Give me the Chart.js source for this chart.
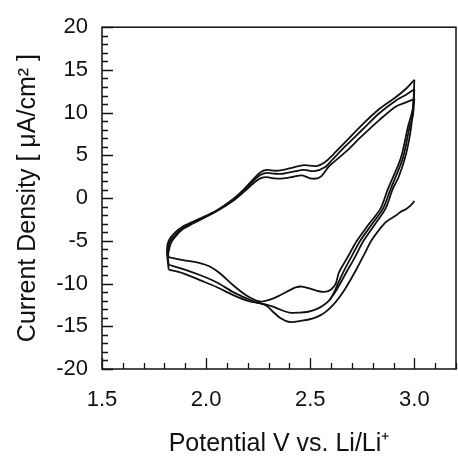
<!DOCTYPE html>
<html>
<head>
<meta charset="utf-8">
<script src="https://cdn.jsdelivr.net/npm/chart.js@4.4.0/dist/chart.umd.min.js"></script>
<style>
  html, body { margin: 0; padding: 0; background: #fff; overflow: hidden; }
  #wrap { width: 458px; height: 458px; }
  canvas { display: block; }
</style>
</head>
<body>
<div id="wrap"><canvas id="cv" width="458" height="458"></canvas></div>
<script>
// sweeps: potential (V) and current density (uA/cm2)
// cycle 1, cathodic (starts at 3.0 V near 0, outermost loop at the bottom)
const c1V = [3.0, 2.985, 2.961, 2.935, 2.913, 2.865, 2.825, 2.793, 2.761, 2.729, 2.695, 2.668, 2.64, 2.61, 2.58, 2.55, 2.51, 2.46, 2.40, 2.36, 2.321, 2.29, 2.257, 2.209, 2.13, 2.05, 1.97, 1.89, 1.82];
const c1I = [-0.34, -0.8, -1.27, -1.6, -2.02, -2.77, -3.89, -5.0, -6.5, -8.0, -9.5, -10.6, -11.6, -12.5, -13.2, -13.7, -14.1, -14.35, -14.5, -14.1, -13.3, -12.6, -12.3, -12.1, -11.35, -10.4, -9.6, -8.8, -8.36];
// cycle 1, anodic
const a1V = [1.82, 1.812, 1.82, 1.848, 1.89, 1.97, 2.05, 2.13, 2.18, 2.23, 2.26, 2.29, 2.33, 2.37, 2.42, 2.47, 2.53, 2.57, 2.61, 2.67, 2.75, 2.83, 2.91, 2.96, 3.0];
const a1I = [-8.36, -6.1, -5.0, -4.1, -3.3, -2.4, -1.45, -0.1, 1.0, 2.3, 3.0, 3.3, 3.2, 3.3, 3.6, 3.85, 3.75, 4.2, 5.1, 6.6, 8.6, 10.4, 11.8, 12.8, 13.85];
// cycle 2, cathodic
const c2V = [3.0, 2.996, 2.985, 2.972, 2.955, 2.925, 2.895, 2.862, 2.81, 2.756, 2.715, 2.673, 2.644, 2.62, 2.59, 2.56, 2.53, 2.49, 2.45, 2.40, 2.35, 2.321, 2.28, 2.24, 2.209, 2.13, 2.05, 1.97, 1.89, 1.82];
const c2I = [13.85, 11.5, 8.4, 6.5, 4.7, 2.5, 1.0, -1.2, -3.1, -5.0, -6.9, -8.7, -10.0, -11.0, -12.0, -12.6, -13.0, -13.3, -13.4, -13.4, -13.0, -12.7, -12.4, -12.2, -11.9, -11.0, -9.85, -9.0, -8.3, -7.8];
// cycle 2, anodic
const a2V = [1.82, 1.815, 1.826, 1.856, 1.89, 1.97, 2.05, 2.13, 2.18, 2.23, 2.26, 2.29, 2.33, 2.37, 2.42, 2.47, 2.52, 2.57, 2.61, 2.67, 2.75, 2.83, 2.91, 2.96, 3.0];
const a2I = [-7.8, -6.3, -5.1, -4.2, -3.45, -2.5, -1.5, -0.2, 0.9, 2.1, 2.7, 2.95, 2.85, 2.85, 3.1, 3.3, 3.15, 3.6, 4.6, 6.1, 8.0, 9.9, 11.4, 12.1, 12.73];
// cycle 3, cathodic (innermost loop at the bottom)
const c3V = [3.0, 2.993, 2.97, 2.935, 2.872, 2.838, 2.78, 2.724, 2.68, 2.638, 2.622, 2.60, 2.577, 2.54, 2.50, 2.46, 2.43, 2.40, 2.353, 2.31, 2.257, 2.194, 2.13, 2.066, 2.018, 1.97, 1.89, 1.82];
const c3I = [12.73, 10.5, 8.4, 4.7, 1.0, -1.2, -3.1, -5.0, -6.9, -8.7, -10.05, -10.7, -10.95, -10.9, -10.6, -10.35, -10.45, -10.8, -11.4, -11.85, -12.1, -11.4, -10.2, -8.8, -8.0, -7.6, -7.25, -6.9];
// cycle 3, anodic
const a3V = [1.82, 1.818, 1.832, 1.86, 1.89, 1.97, 2.05, 2.13, 2.18, 2.23, 2.26, 2.29, 2.33, 2.37, 2.42, 2.46, 2.51, 2.55, 2.59, 2.67, 2.75, 2.83, 2.91, 2.96, 3.0];
const a3I = [-6.9, -6.5, -5.2, -4.3, -3.6, -2.55, -1.55, -0.3, 0.7, 1.8, 2.3, 2.45, 2.3, 2.3, 2.5, 2.65, 2.27, 2.5, 3.7, 5.4, 7.3, 9.1, 10.7, 11.2, 11.6];
// last partial cathodic sweep, runs into the cycle 2 trace
const c4V = [3.0, 2.992, 2.978, 2.945, 2.885, 2.85, 2.795, 2.74, 2.697, 2.66, 2.635, 2.615, 2.595];
const c4I = [11.6, 9.5, 8.4, 4.7, 1.0, -1.2, -3.1, -5.0, -6.9, -8.6, -9.9, -11.0, -11.9];

const xMin = 1.5, xMax = 3.2, xStep = 0.1, xMajor = 0.5;
const yMin = -20, yMax = 20, yStep = 1, yMajor = 5;

const sweeps = [[c1V, c1I], [a1V, a1I], [c2V, c2I], [a2V, a2I], [c3V, c3I], [a3V, a3I], [c4V, c4I]];
const FONT = "'Liberation Sans', Arial, sans-serif";
const INK = "#111";

function isMajor(v, m) {
  const r = v / m;
  return Math.abs(r - Math.round(r)) < 1e-6;
}

// frame around the plot + inward ticks (bottom and left only)
const frameTicks = {
  id: "frameTicks",
  afterDraw(chart) {
    const { ctx, chartArea: a, scales } = chart;
    ctx.save();
    ctx.strokeStyle = INK;
    ctx.lineWidth = 1.5;
    ctx.strokeRect(a.left, a.top, a.right - a.left, a.bottom - a.top);
    ctx.lineWidth = 1.3;
    ctx.beginPath();
    scales.x.ticks.forEach(t => {
      const px = Math.round(scales.x.getPixelForValue(t.value)) + 0.5;
      const len = isMajor(t.value, xMajor) ? 11 : 6;
      ctx.moveTo(px, a.bottom);
      ctx.lineTo(px, a.bottom - len);
    });
    scales.y.ticks.forEach(t => {
      const py = Math.round(scales.y.getPixelForValue(t.value)) + 0.5;
      const len = isMajor(t.value, yMajor) ? 11 : 6;
      ctx.moveTo(a.left, py);
      ctx.lineTo(a.left + len, py);
    });
    ctx.stroke();
    ctx.restore();
  }
};

new Chart(document.getElementById("cv"), {
  type: "scatter",
  data: {
    datasets: sweeps.map(([vs, is]) => ({
      data: vs.map((v, k) => ({ x: v, y: is[k] })),
      showLine: true,
      borderColor: INK,
      borderWidth: 1.8,
      pointRadius: 0,
      tension: 0.3,
      fill: false
    }))
  },
  options: {
    responsive: false,
    animation: false,
    layout: { autoPadding: false, padding: { top: 14, right: 2, left: 0, bottom: 0 } },
    plugins: { legend: { display: false }, tooltip: { enabled: false } },
    scales: {
      x: {
        type: "linear",
        min: xMin,
        max: xMax,
        // the tick padding would otherwise be reserved on the right as well
        afterFit: s => { s.height = 89; s.paddingLeft = 0; s.paddingRight = 0; },
        grid: { display: false, drawTicks: false },
        border: { display: false },
        ticks: {
          stepSize: xStep,
          autoSkip: false,
          maxRotation: 0,
          padding: 18,
          color: INK,
          font: { family: FONT, size: 22 },
          callback: v => isMajor(v, xMajor) ? v.toFixed(1) : ""
        },
        title: {
          display: true,
          text: "Potential V vs. Li/Li\u207A",
          color: INK,
          font: { family: FONT, size: 25, lineHeight: 1 },
          padding: { top: 0, bottom: 1 }
        }
      },
      y: {
        type: "linear",
        min: yMin,
        max: yMax,
        afterFit: s => { s.width = 102; },
        grid: { display: false, drawTicks: false },
        border: { display: false },
        ticks: {
          stepSize: yStep,
          autoSkip: false,
          padding: 14,
          color: INK,
          font: { family: FONT, size: 22 },
          callback: v => isMajor(v, yMajor) ? String(Math.round(v)) : ""
        },
        title: {
          display: true,
          text: "Current Density [ \u03BCA/cm\u00B2 ]",
          color: INK,
          font: { family: FONT, size: 25, lineHeight: 1 },
          padding: { top: 16, bottom: 0 }
        }
      }
    }
  },
  plugins: [frameTicks]
});
</script>
</body>
</html>
